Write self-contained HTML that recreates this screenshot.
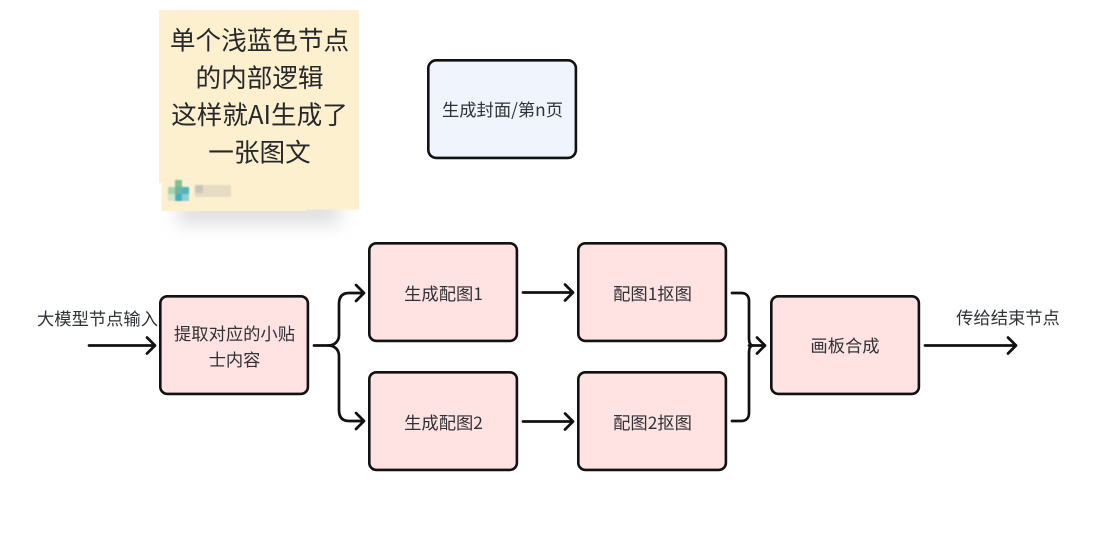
<!DOCTYPE html>
<html lang="zh">
<head>
<meta charset="utf-8">
<style>
html,body{margin:0;padding:0;background:#fff;width:1108px;height:553px;overflow:hidden}
svg{display:block}
text{font-family:"Noto Sans CJK SC","Liberation Sans",sans-serif;fill:#2f3237;text-anchor:middle}
.b{font-size:17.3px}
.s{font-size:25.6px;fill:#26282c}
.box{fill:#ffe2e2;stroke:#111;stroke-width:2.6}
.l{fill:none;stroke:#111;stroke-width:2.7;stroke-linecap:round;stroke-linejoin:round}
</style>
</head>
<body>
<svg width="1108" height="553" viewBox="0 0 1108 553" xmlns="http://www.w3.org/2000/svg">
<defs>
<filter id="blur" x="-30%" y="-100%" width="160%" height="300%"><feGaussianBlur stdDeviation="9"/></filter>
<filter id="px" x="-20%" y="-20%" width="140%" height="140%"><feGaussianBlur stdDeviation="0.7"/></filter>
</defs>

<rect x="178" y="200" width="162" height="24" fill="#a8a8a8" opacity=".38" filter="url(#blur)"/>
<path d="M159 10H359V209.500H306V211H161.500V183H159Z" fill="#fdf0cf"/>
<text class="s" x="259.500" y="49.500">单个浅蓝色节点</text>
<text class="s" x="259.500" y="87">的内部逻辑</text>
<text class="s" x="259.500" y="124">这样就AI生成了</text>
<text class="s" x="259.500" y="161.500">一张图文</text>
<g filter="url(#px)">
<rect x="175" y="180" width="7" height="7" fill="#7fbf93"/>
<rect x="168" y="187" width="7" height="7" fill="#a5d3ae"/>
<rect x="175" y="187" width="7" height="7" fill="#6cb6a3"/>
<rect x="182" y="187" width="7" height="7" fill="#4db3bc"/>
<rect x="168" y="194" width="7" height="7" fill="#d3e4cf"/>
<rect x="175" y="194" width="7" height="7" fill="#43aebd"/>
<rect x="182" y="194" width="7" height="7" fill="#8fcdd2"/>
<rect x="195" y="185" width="8" height="8" fill="#c9c5b5"/>
<rect x="203" y="185" width="28" height="12" fill="#e6dcc3"/>
<rect x="195" y="193" width="8" height="4" fill="#e6dcc3"/>
</g>

<rect x="428.300" y="60.300" width="147.600" height="97.600" rx="8" fill="#eff4fd" stroke="#111" stroke-width="2.600"/>
<text class="b" x="502.500" y="116">生成封面/第n页</text>

<rect class="box" x="160.300" y="296.300" width="147.600" height="97.600" rx="7"/>
<rect class="box" x="369.300" y="243.300" width="147.600" height="97.600" rx="7"/>
<rect class="box" x="369.300" y="372.300" width="147.600" height="97.600" rx="7"/>
<rect class="box" x="578.300" y="243.300" width="147.600" height="97.600" rx="7"/>
<rect class="box" x="578.300" y="372.300" width="147.600" height="97.600" rx="7"/>
<rect class="box" x="771.300" y="296.300" width="147.600" height="97.600" rx="7"/>

<text class="b" x="234.500" y="340">提取对应的小贴</text>
<text class="b" x="234.500" y="366">士内容</text>
<text class="b" x="443.500" y="300">生成配图1</text>
<text class="b" x="443.500" y="429">生成配图2</text>
<text class="b" x="652.500" y="300">配图1抠图</text>
<text class="b" x="652.500" y="429">配图2抠图</text>
<text class="b" x="845" y="352">画板合成</text>
<text class="b" x="97.500" y="325">大模型节点输入</text>
<text class="b" x="1008" y="324">传给结束节点</text>

<path class="l" d="M89 345.500H155M147 337.500L155 345.500L147 353.500"/>
<path class="l" d="M314 345.500H328C335 345.500 339 341 339 335V304C339 297 342 293 349 293H364M356 285L364 293L356 301"/>
<path class="l" d="M328 345.500C335 345.500 339 350 339 356V410C339 417 342 421 349 421H364M356 413L364 421L356 429"/>
<path class="l" d="M523 292.500H573M565 284.500L573 292.500L565 300.500"/>
<path class="l" d="M523 421.500H573M565 413.500L573 421.500L565 429.500"/>
<path class="l" d="M732 293H741C746 293 749 296 749 301V338C749 342 750 345.500 753 345.500C750 345.500 749 349 749 353V413C749 418 746 421 741 421H732"/>
<path class="l" d="M749 345.500H765M757 337.500L765 345.500L757 353.500"/>
<path class="l" d="M925 345.500H1016M1008 337.500L1016 345.500L1008 353.500"/>
</svg>
</body>
</html>
